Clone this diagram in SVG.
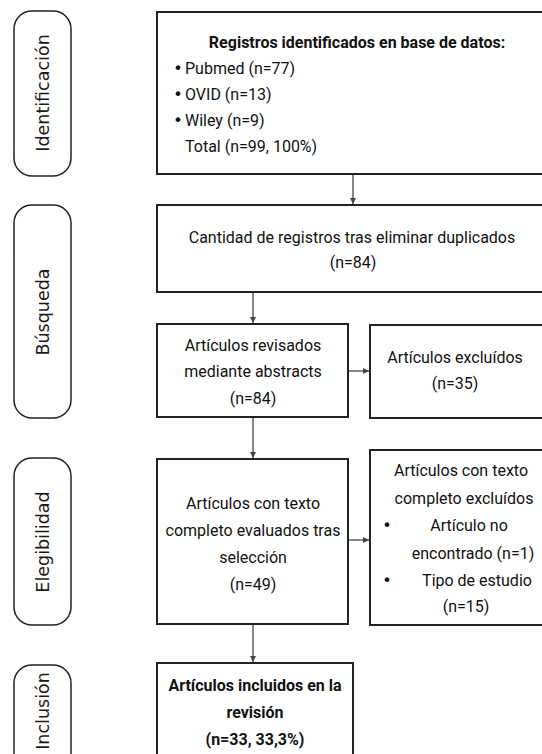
<svg xmlns="http://www.w3.org/2000/svg" width="542" height="754" viewBox="0 0 542 754">
<style>
.bg{fill:#ffffff}
.box{fill:#ffffff;stroke:#222222;stroke-width:2}
.pill{fill:#ffffff;stroke:#222222;stroke-width:1.5}
.t{font-family:Roboto,"Liberation Sans",sans-serif;font-size:16px;fill:#111111}
.c{text-anchor:middle}
.b{font-weight:bold}
.bul{font-family:"DejaVu Sans","Liberation Sans",sans-serif;font-size:16px;fill:#111111;text-anchor:middle}
.lab{font-family:"DejaVu Sans","Liberation Sans",sans-serif;font-size:17.5px;fill:#1a1a1a;text-anchor:middle}
.arr{stroke:#444444;stroke-width:1.3;fill:none;marker-end:url(#ah)}
</style>
<defs>
<marker id="ah" viewBox="0 0 6 6" refX="6" refY="3" markerWidth="6" markerHeight="6" markerUnits="userSpaceOnUse" orient="auto">
<path d="M0,0 L6,3 L0,6 z" fill="#444444"/>
</marker>
</defs>
<rect class="bg" x="0" y="0" width="542" height="754"/>

<g id="lab-identificacion">
<rect class="pill" x="14" y="11" width="57" height="165" rx="18"/>
<text class="lab" transform="translate(49,93) rotate(-90)">Identificación</text>
</g>
<g id="lab-busqueda">
<rect class="pill" x="14" y="205" width="57" height="213" rx="18"/>
<text class="lab" transform="translate(49,312) rotate(-90)">Búsqueda</text>
</g>
<g id="lab-elegibilidad">
<rect class="pill" x="14" y="458" width="57" height="167" rx="18"/>
<text class="lab" transform="translate(49,542) rotate(-90)">Elegibilidad</text>
</g>
<g id="lab-inclusion">
<rect class="pill" x="14" y="665" width="57" height="120" rx="18"/>
<text class="lab" transform="translate(49,711) rotate(-90)">Inclusión</text>
</g>

<g id="n-registros">
<rect class="box" x="157" y="12" width="420" height="162"/>
<text class="t c b" x="357" y="48">Registros identificados en base de datos:</text>
<text class="bul" x="178" y="74">•</text><text class="t" x="185" y="74">Pubmed (n=77)</text>
<text class="bul" x="178" y="100">•</text><text class="t" x="185" y="100">OVID (n=13)</text>
<text class="bul" x="178" y="126">•</text><text class="t" x="185" y="126">Wiley (n=9)</text>
<text class="t" x="185" y="152">Total (n=99, 100%)</text>
</g>

<g id="n-duplicados">
<rect class="box" x="157" y="205" width="420" height="87"/>
<text class="t c" x="352" y="243">Cantidad de registros tras eliminar duplicados</text>
<text class="t c" x="353" y="268">(n=84)</text>
</g>

<g id="n-revisados">
<rect class="box" x="157" y="324" width="191" height="93"/>
<text class="t c" x="253" y="351">Artículos revisados</text>
<text class="t c" x="253" y="377">mediante abstracts</text>
<text class="t c" x="253" y="404">(n=84)</text>
</g>

<g id="n-excluidos">
<rect class="box" x="370" y="325" width="200" height="93"/>
<text class="t c" x="455" y="363">Artículos excluídos</text>
<text class="t c" x="455" y="389">(n=35)</text>
</g>

<g id="n-evaluados">
<rect class="box" x="157" y="459" width="191" height="165"/>
<text class="t c" x="253" y="509">Artículos con texto</text>
<text class="t c" x="253" y="536">completo evaluados tras</text>
<text class="t c" x="253" y="563">selección</text>
<text class="t c" x="253" y="590">(n=49)</text>
</g>

<g id="n-texto-excluidos">
<rect class="box" x="370" y="450" width="200" height="175"/>
<text class="t c" x="461" y="476">Artículos con texto</text>
<text class="t c" x="464" y="504">completo excluídos</text>
<text class="bul" x="387" y="531">•</text><text class="t c" x="469" y="531">Artículo no</text>
<text class="t c" x="473" y="559">encontrado (n=1)</text>
<text class="bul" x="387" y="586">•</text><text class="t c" x="477" y="586">Tipo de estudio</text>
<text class="t c" x="466" y="612">(n=15)</text>
</g>

<g id="n-incluidos">
<rect class="box" x="157" y="663" width="196" height="120"/>
<text class="t c b" x="255" y="691">Artículos incluidos en la</text>
<text class="t c b" x="255" y="718">revisión</text>
<text class="t c b" x="255" y="745">(n=33, 33,3%)</text>
</g>

<g id="connectors">
<line class="arr" x1="353" y1="175" x2="353" y2="204"/>
<line class="arr" x1="253" y1="293" x2="253" y2="323"/>
<line class="arr" x1="349" y1="371" x2="369" y2="371"/>
<line class="arr" x1="253" y1="418" x2="253" y2="458"/>
<line class="arr" x1="349" y1="540" x2="369" y2="540"/>
<line class="arr" x1="253" y1="625" x2="253" y2="662"/>
</g>
</svg>
